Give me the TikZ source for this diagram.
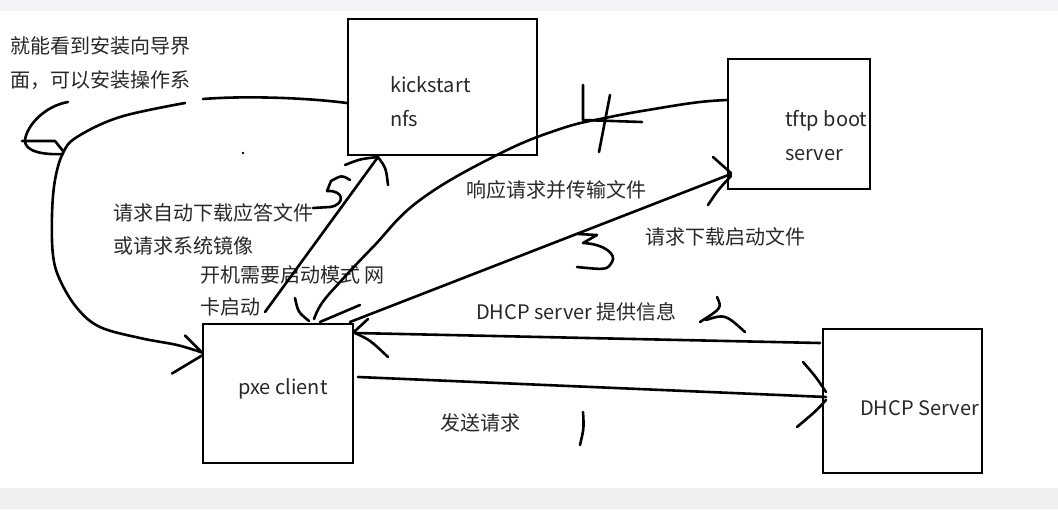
\documentclass[tikz,border=0pt]{standalone}
\usepackage{fontspec}
\setmainfont{Noto Sans CJK SC}
\usetikzlibrary{calc}
\definecolor{txt}{RGB}{40,40,40}
\definecolor{bandtop}{RGB}{243,244,247}
\definecolor{bandbot}{RGB}{240,240,240}
\begin{document}
\begin{tikzpicture}[x=1pt,y=-1pt,
  box/.style={draw, line width=2.6pt, inner sep=0pt, outer sep=0pt},
  lbl/.style={text=txt, font=\fontsize{20}{24}\selectfont, anchor=base west, inner sep=0pt},
  pen/.style={line width=2.6pt, line cap=round, line join=round}]
\useasboundingbox (0,0) rectangle (1058,509);
\fill[white] (0,0) rectangle (1058,509);
\fill[bandtop] (0,0) rectangle (1058,11);
\fill[bandbot] (0,488) rectangle (1058,509);

% texts
\node[lbl] (t1a) at (10,53) {就能看到安装向导界};
\node[lbl] (t1b) at (10,87) {面，可以安装操作系};
\node[lbl] (kst) at (390,92) {kickstart};
\node[lbl] (nfs) at (390,126) {nfs};
\node[lbl] (tft) at (785,126) {tftp boot};
\node[lbl] (srv) at (785,160) {server};
\node[lbl] (resp) at (466,197) {响应请求并传输文件};
\node[lbl] (reqdl) at (645,244) {请求下载启动文件};
\node[lbl] (auto) at (113,220) {请求自动下载应答文件};
\node[lbl] (img) at (113,253) {或请求系统镜像};
\node[lbl] (boot1) at (200,282) {开机需要启动模式 网};
\node[lbl] (boot2) at (200,314) {卡启动};
\node[lbl] (dinfo) at (476,319) {DHCP server 提供信息};
\node[lbl] (pxet) at (238,394) {pxe client};
\node[lbl] (send) at (440,430) {发送请求};
\node[lbl] (dhcpt) at (860,415) {DHCP Server};

% boxes
\node[box, minimum width=189pt, minimum height=136pt] (ks) at (442.5,87) {};
\node[box, minimum width=142pt, minimum height=130pt] (tftp) at (799,124) {};
\node[box, minimum width=150pt, minimum height=139pt] (pxe) at (278,393.5) {};
\node[box, minimum width=159pt, minimum height=144pt] (dhcp) at (902.5,401) {};

% 1: pxe -> dhcp
\draw[pen] ($(pxe.east)+(5,-16.5)$) -- ($(dhcp.west)+(3,-4)$) coordinate (a1);
\draw[pen] ($(a1)+(-23,-35)$) .. controls ($(a1)+(-10,-20)$) .. ($(a1)+(0,-5)$);
\draw[pen] ($(a1)+(-29,30)$) .. controls ($(a1)+(-10,14)$) .. ($(a1)+(0,3)$);

% 2: dhcp -> pxe
\draw[pen] ($(dhcp.north west)+(-3,14)$) -- ($(pxe.north east)+(2,9)$) coordinate (a2);
\draw[pen] (a2) .. controls ($(a2)+(15,7)$) .. ($(a2)+(33,24)$);
\draw[pen] ($(a2)+(0,-2)$) -- ($(a2)+(13,-14)$);

% 3: pxe -> tftp
\draw[pen] ($(pxe.north east)+(-3,-2)$) -- ($(tftp.south west)+(3,-15)$) coordinate (a3);
\draw[pen] ($(a3)+(-18,-17)$) -- ($(a3)+(0,-1)$);
\draw[pen] ($(a3)+(-23,31)$) .. controls ($(a3)+(-13,16)$) .. ($(a3)+(0,2)$);

% 4: tftp -> pxe (curve)
\coordinate (s4) at ($(tftp.west)+(0,-24)$);
\coordinate (a4) at ($(pxe.north)+(36,-5)$);
\draw[pen] plot[smooth, tension=0.7] coordinates {(s4) (700,102) (660,108) (610,117) (560,129) (497,155) (420,200) (373,247) (340,282) (322,303) (a4)};
\draw[pen] ($(a4)+(-19,-21)$) .. controls ($(a4)+(-16,-7)$) .. ($(a4)+(-5,2)$);
\draw[pen] ($(a4)+(6,3)$) -- ($(a4)+(46,-14)$);
% hand-drawn 4
\draw[pen] (583,85) -- (583,120) -- (642,122);
\draw[pen] (610,95) -- (599,152);

% 5: kickstart -> pxe (big left curve)
\draw[pen] ($(ks.west)+(-1,16)$) .. controls (300,97) and (240,96) .. (203,99);
\coordinate (a5) at ($(pxe.west)+(-1,-41)$);
\draw[pen] plot[smooth, tension=0.6] coordinates {(185,103) (120,117) (77,137) (63,153) (55,180) (52,215) (53,255) (60,280) (77,308) (100,327) (140,338) (177,345) (a5)};
\draw[pen] ($(a5)+(-17,-17)$) -- (a5);
\draw[pen] ($(a5)+(-30,21)$) .. controls ($(a5)+(-15,12)$) .. ($(a5)+(0,3)$);
% scribble loop
\draw[pen] (68,102) .. controls (45,106) and (27,125) .. (25,140) .. controls (24,152) and (45,155) .. (63,154);
\draw[pen] (22,141) -- (55,141) -- (63,151);

% 6: pxe -> kickstart
\draw[pen] ($(pxe.north)+(-13,-12)$) -- ($(ks.south)+(-64.5,2)$) coordinate (a6);
\draw[pen] ($(a6)+(-33,8)$) .. controls ($(a6)+(-18,2)$) .. (a6);
\draw[pen] (a6) .. controls ($(a6)+(8,11)$) .. ($(a6)+(10,28)$);

% hand-drawn numbers
\draw[pen] (350,180) .. controls (342,175) .. (331,181) -- (327,191) .. controls (345,190) and (345,205) .. (330,207) -- (313,208);
\draw[pen] (583,412) .. controls (584,428) .. (580,445);
\draw[pen] (717,297) .. controls (722,308) .. (700,322);
\draw[pen] (706,320) .. controls (725,314) .. (745,332);
\draw[pen] (578,234) -- (597,235) -- (583,243) .. controls (605,244) and (617,255) .. (612,262) .. controls (607,270) .. (577,267);
\fill (243,153) circle (1.3);
\end{tikzpicture}
\end{document}
